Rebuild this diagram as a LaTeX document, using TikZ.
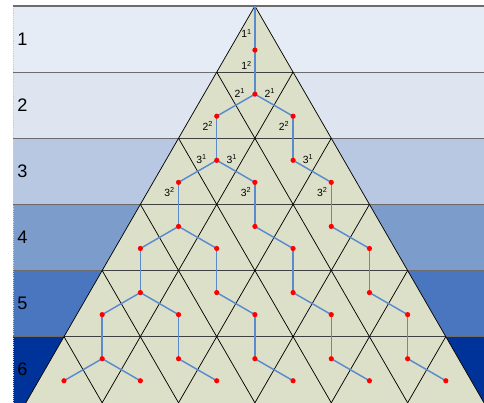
\documentclass[tikz,border=0pt]{standalone}
\usepackage{fontspec}
\setmainfont{Liberation Sans}
\usepackage{xcolor}
\usetikzlibrary{positioning}

\definecolor{bandA}{HTML}{E6ECF6}
\definecolor{bandB}{HTML}{DEE4F0}
\definecolor{bandC}{HTML}{B8C8E3}
\definecolor{bandD}{HTML}{7C9CCC}
\definecolor{bandE}{HTML}{4A76BF}
\definecolor{bandF}{HTML}{00339A}
\definecolor{trifill}{HTML}{DDE0C9}
\definecolor{linkblue}{HTML}{5A8BCF}

\pgfdeclarelayer{back}
\pgfdeclarelayer{mid}
\pgfsetlayers{back,mid,main}

\def\rh{0.866}

\begin{document}
\begin{tikzpicture}[x=57.3pt, y=57.3pt, font=\fontsize{7.8}{9}\selectfont,
  sep/.style={draw=gray!85!black, line width=0.9pt},
  grid/.style={draw=black, line width=0.55pt},
  link/.style={draw=linkblue, line width=1.1pt},
  dot/.style={circle, fill=red, inner sep=0pt, minimum size=3.9pt},
  lbl/.style={inner sep=0.5pt},
  rowlab/.style={anchor=west, inner sep=0pt, font=\fontsize{13.6}{15}\selectfont}]
\useasboundingbox (-3.338,0.0785) rectangle (3,-5.196);

\begin{pgfonlayer}{back}
% rows
\fill[bandA] (-3.168,0) rectangle (3,-\rh);
\fill[bandB] (-3.168,-\rh) rectangle (3,-2*\rh);
\fill[bandC] (-3.168,-2*\rh) rectangle (3,-3*\rh);
\fill[bandD] (-3.168,-3*\rh) rectangle (3,-4*\rh);
\fill[bandE] (-3.168,-4*\rh) rectangle (3,-5*\rh);
\fill[bandF] (-3.168,-5*\rh) rectangle (3,-5.196);
\draw[gray!40, densely dotted] (-3.168,0) -- (-3.168,-5.196);
\foreach \k in {0,...,5}
  \draw[sep] (-3.168,-\k*\rh) -- (3,-\k*\rh);
% triangle
\fill[trifill] (0,0) -- (-3,-6*\rh) -- (3,-6*\rh) -- cycle;
\foreach \k in {1,...,5}
  \draw[grid, draw=black!75] (-\k/2,-\k*\rh) -- (\k/2,-\k*\rh);
\foreach \k in {0,...,5} {
  \draw[grid] (-3+\k,-6*\rh) -- (\k/2,-\k*\rh);
  \draw[grid] (3-\k,-6*\rh) -- (-\k/2,-\k*\rh);
}
\end{pgfonlayer}

% row numbers
\node[rowlab] (r1) at (-3.115,-0.5*\rh) {1};
\node[rowlab] (r2) at (-3.115,-1.5*\rh) {2};
\node[rowlab] (r3) at (-3.115,-2.5*\rh) {3};
\node[rowlab] (r4) at (-3.115,-3.5*\rh) {4};
\node[rowlab] (r5) at (-3.115,-4.5*\rh) {5};
\node[rowlab] (r6) at (-3.115,-5.5*\rh) {6};

% centres of the triangles
\foreach \i in {1,...,6} {
  \pgfmathtruncatemacro\nu{\i-1}
  \foreach \j in {0,...,\nu}
    \node[dot] (u-\i-\j) at ({-(\i-1)/2+\j},{-(\i-1/3)*\rh}) {};
}
\foreach \i in {2,...,6} {
  \pgfmathtruncatemacro\nd{\i-2}
  \foreach \j in {0,...,\nd}
    \node[dot] (d-\i-\j) at ({-(\i-2)/2+\j},{-(\i-2/3)*\rh}) {};
}
\coordinate (top) at (0,0);

\begin{pgfonlayer}{mid}
\draw[link] (top) -- (u-1-0.center);
\foreach \i in {2,...,6} {
  \pgfmathtruncatemacro\p{\i-1}
  \pgfmathtruncatemacro\nd{\i-2}
  \draw[link] (d-\i-0.center) -- (u-\i-0.center);
  \foreach \k in {0,...,\nd} {
    \pgfmathtruncatemacro\q{\k+1}
    \draw[link] (u-\p-\k.center) -- (d-\i-\k.center);
    \draw[link] (d-\i-\k.center) -- (u-\i-\q.center);
  }
}
\end{pgfonlayer}

% labels
\node[lbl, above left=7pt and 0pt of u-1-0] (a11) {1\textsuperscript{1}};
\node[lbl, below left=6pt and 0pt of u-1-0] (a12) {1\textsuperscript{2}};
\node[lbl, left=4.5pt of d-2-0, yshift=1pt] (a21l) {2\textsuperscript{1}};
\node[lbl, right=4.5pt of d-2-0, yshift=1pt] (a21r) {2\textsuperscript{1}};
\node[lbl, below left=1.6pt and 0.5pt of u-2-0] (a22l) {2\textsuperscript{2}};
\node[lbl, below left=1.6pt and 0.5pt of u-2-1] (a22r) {2\textsuperscript{2}};
\node[lbl, left=4.5pt of d-3-0, yshift=1pt] (a31l) {3\textsuperscript{1}};
\node[lbl, right=4.5pt of d-3-0, yshift=1pt] (a31m) {3\textsuperscript{1}};
\node[lbl, right=4.5pt of d-3-1, yshift=1pt] (a31r) {3\textsuperscript{1}};
\node[lbl, below left=1.6pt and 0.5pt of u-3-0] (a32l) {3\textsuperscript{2}};
\node[lbl, below left=1.6pt and 0.5pt of u-3-1] (a32m) {3\textsuperscript{2}};
\node[lbl, below left=1.6pt and 0.5pt of u-3-2] (a32r) {3\textsuperscript{2}};
\end{tikzpicture}
\end{document}
